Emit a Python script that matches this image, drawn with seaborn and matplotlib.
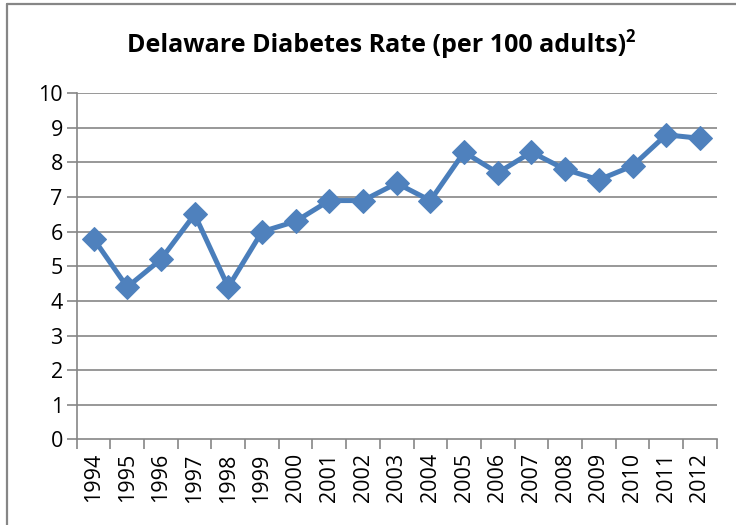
import matplotlib
matplotlib.use("Agg")
import matplotlib.pyplot as plt
import seaborn as sns
import pandas as pd
from matplotlib.ticker import FixedLocator
from matplotlib.lines import Line2D

years = ["1994", "1995", "1996", "1997", "1998", "1999", "2000", "2001", "2002", "2003",
         "2004", "2005", "2006", "2007", "2008", "2009", "2010", "2011", "2012"]
rates = [5.8, 4.4, 5.2, 6.5, 4.4, 6.0, 6.3, 6.9, 6.9, 7.4,
         6.9, 8.3, 7.7, 8.3, 7.8, 7.5, 7.9, 8.8, 8.7]
yticks = [0, 1, 2, 3, 4, 5, 6, 7, 8, 9, 10]
title = "Delaware Diabetes Rate (per 100 adults)"

sns.set_theme(style="white")
plt.rcParams['font.family'] = ['Open Sans', 'DejaVu Sans']

df = pd.DataFrame({"pos": range(len(years)), "rate": rates})

fig = plt.figure(figsize=(7.36, 5.25), dpi=100)
ax = fig.add_axes([0.1042, 0.1632, 0.8696, 0.6591])

grid_c = "#868686"
for v in yticks[1:]:
    ax.axhline(v, color=grid_c, lw=1.2, zorder=0)

sns.lineplot(data=df, x="pos", y="rate", ax=ax, color="#4A7EBB", lw=3.6,
             marker="D", markersize=12, markerfacecolor="#4F81BD",
             markeredgecolor="#4F81BD", zorder=3)

ax.set_xlim(-0.5, len(years) - 0.5)
ax.set_ylim(0, 10)
ax.set_xlabel("")
ax.set_ylabel("")
ax.set_xticks(range(len(years)))
ax.set_xticklabels(years, rotation=90, fontsize=15.5, color="black")
ax.xaxis.set_minor_locator(FixedLocator([i - 0.5 for i in range(len(years) + 1)]))
ax.tick_params(axis="x", which="major", length=0, pad=10)
ax.tick_params(axis="x", which="minor", length=7, width=1.2, color=grid_c, direction="out", bottom=True)
ax.set_yticks(yticks)
ax.set_yticklabels([str(v) for v in yticks], fontsize=15.5, color="black")
ax.tick_params(axis="y", which="major", length=7, width=1.2, color=grid_c, direction="out", left=True, pad=3)

for s in ["top", "right"]:
    ax.spines[s].set_visible(False)
for s in ["left", "bottom"]:
    ax.spines[s].set_color(grid_c)
    ax.spines[s].set_linewidth(1.2)

t = fig.text(0.512, 0.914, title, ha="center", va="center",
             fontsize=18, fontweight="bold", color="black")
fig.canvas.draw()
bb = t.get_window_extent()
fig.text(bb.x1 / fig.bbox.width - 0.002, 0.929, "2", ha="left", va="center",
         fontsize=12, fontweight="bold", color="black")

# chart frame (left and top edges visible)
fig.add_artist(Line2D([0.0095, 0.0095], [0, 0.993], transform=fig.transFigure, color="#868686", lw=1.6))
fig.add_artist(Line2D([0.0095, 1.0], [0.993, 0.993], transform=fig.transFigure, color="#868686", lw=1.6))

fig.savefig("out.png", dpi=100)
